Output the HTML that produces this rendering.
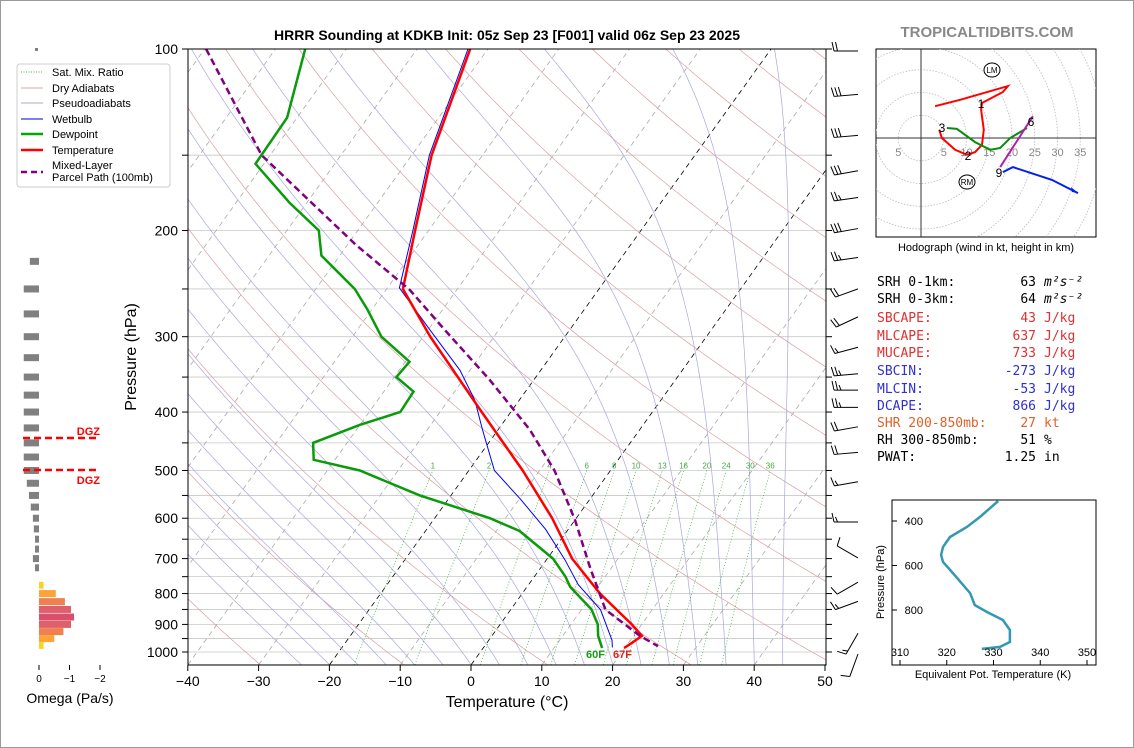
<!DOCTYPE html>
<html><head><meta charset="utf-8">
<style>
html,body{margin:0;padding:0;background:#fff;}
svg{display:block;font-family:"Liberation Sans","DejaVu Sans",sans-serif;}
.mono{font-family:"DejaVu Sans Mono","Liberation Mono",monospace;font-size:13px;white-space:pre;}
</style></head>
<body>
<svg id="chart" width="1134" height="748" viewBox="0 0 1134 748" xmlns="http://www.w3.org/2000/svg">
<defs><clipPath id="plotclip"><rect x="188" y="49" width="638" height="616"/></clipPath>
<clipPath id="hodoclip"><rect x="876" y="49" width="220" height="188"/></clipPath>
<clipPath id="teclip"><rect x="892" y="500" width="204" height="165"/></clipPath></defs>
<rect x="0.5" y="0.5" width="1133" height="747" fill="#fff" stroke="#999"/>
<text x="507" y="40" text-anchor="middle" font-size="14" font-weight="bold">HRRR Sounding at KDKB Init: 05z Sep 23 [F001] valid 06z Sep 23 2025</text>
<text x="987" y="37" text-anchor="middle" font-size="15" font-weight="bold" fill="#888">TROPICALTIDBITS.COM</text>
<g id="bg" clip-path="url(#plotclip)"></g>
<g id="series" clip-path="url(#plotclip)"></g>
<rect x="188" y="49" width="638" height="616" fill="none" stroke="#000" stroke-width="1"/>
<g id="axes"></g>
<text x="136" y="357" transform="rotate(-90 136 357)" text-anchor="middle" font-size="16">Pressure (hPa)</text>
<text x="507" y="707" text-anchor="middle" font-size="16">Temperature (°C)</text>
<text x="586" y="658" font-size="11" font-weight="bold" fill="#1a9a1a">60F</text>
<text x="613" y="658" font-size="11" font-weight="bold" fill="#e02020">67F</text>
<g id="barbs"></g>
<g id="omega"></g>
<text x="70" y="703" text-anchor="middle" font-size="14">Omega (Pa/s)</text>
<g>
<rect x="17" y="64" width="153" height="123" rx="3" fill="#fff" fill-opacity="0.9" stroke="#ccc"/>
<line x1="21" y1="72" x2="43" y2="72" stroke="#4a4" stroke-dasharray="1,1.5"/>
<text x="52" y="76" font-size="11">Sat. Mix. Ratio</text>
<line x1="21" y1="88" x2="43" y2="88" stroke="#d9a8a8"/>
<text x="52" y="92" font-size="11">Dry Adiabats</text>
<line x1="21" y1="103" x2="43" y2="103" stroke="#aaaad8"/>
<text x="52" y="107" font-size="11">Pseudoadiabats</text>
<line x1="21" y1="119" x2="43" y2="119" stroke="#00c"/>
<text x="52" y="123" font-size="11">Wetbulb</text>
<line x1="21" y1="134" x2="43" y2="134" stroke="#0a0" stroke-width="2.5"/>
<text x="52" y="138" font-size="11">Dewpoint</text>
<line x1="21" y1="150" x2="43" y2="150" stroke="red" stroke-width="2.5"/>
<text x="52" y="154" font-size="11">Temperature</text>
<line x1="21" y1="172" x2="43" y2="172" stroke="#800080" stroke-width="2.5" stroke-dasharray="6,4"/>
<text x="52" y="169" font-size="11">Mixed-Layer</text>
<text x="52" y="181" font-size="11">Parcel Path (100mb)</text>
</g>
<g id="hodo"></g>
<text x="986" y="251" text-anchor="middle" font-size="11">Hodograph (wind in kt, height in km)</text>
<g class="mono">
<text x="877" y="286">SRH 0-1km:</text><text x="1036" y="286" text-anchor="end">63</text><text x="1044" y="286" font-style="italic">m²s⁻²</text>
<text x="877" y="303">SRH 0-3km:</text><text x="1036" y="303" text-anchor="end">64</text><text x="1044" y="303" font-style="italic">m²s⁻²</text>
<g fill="#e03030"><text x="877" y="322">SBCAPE:</text><text x="1036" y="322" text-anchor="end">43</text><text x="1044" y="322">J/kg</text>
<text x="877" y="340">MLCAPE:</text><text x="1036" y="340" text-anchor="end">637</text><text x="1044" y="340">J/kg</text>
<text x="877" y="357">MUCAPE:</text><text x="1036" y="357" text-anchor="end">733</text><text x="1044" y="357">J/kg</text></g>
<g fill="#3030d0"><text x="877" y="375">SBCIN:</text><text x="1036" y="375" text-anchor="end">-273</text><text x="1044" y="375">J/kg</text>
<text x="877" y="393">MLCIN:</text><text x="1036" y="393" text-anchor="end">-53</text><text x="1044" y="393">J/kg</text>
<text x="877" y="410">DCAPE:</text><text x="1036" y="410" text-anchor="end">866</text><text x="1044" y="410">J/kg</text></g>
<text x="877" y="427" fill="#e0602a">SHR 200-850mb:</text><text x="1036" y="427" text-anchor="end" fill="#e0602a">27</text><text x="1044" y="427" fill="#e0602a">kt</text>
<text x="877" y="444">RH 300-850mb:</text><text x="1036" y="444" text-anchor="end">51</text><text x="1044" y="444">%</text>
<text x="877" y="461">PWAT:</text><text x="1036" y="461" text-anchor="end">1.25</text><text x="1044" y="461">in</text>
</g>
<g id="te"></g>
<text x="993" y="678" text-anchor="middle" font-size="11">Equivalent Pot. Temperature (K)</text>
<text x="884" y="582" transform="rotate(-90 884 582)" text-anchor="middle" font-size="11">Pressure (hPa)</text>
</svg>
<script>
// ---- data arrays ----
const tempP = [100,150,200,250,300,400,500,600,700,800,850,900,940,965,985];
const tempT = [-62.5,-57.2,-51.9,-47.7,-39.0,-24.1,-12.4,-3.4,3.5,11.0,14.9,18.6,21.2,20.5,19.9];
const dewP = [100,130,155,180,200,220,250,270,300,330,350,370,400,420,450,480,500,550,600,630,700,750,780,850,900,940,985];
const dewT = [-85.8,-81.4,-81.2,-72.4,-65.5,-62.6,-54.5,-50.7,-45.9,-39.4,-39.7,-35.8,-35.6,-40.0,-44.8,-43.0,-35.4,-24.4,-12.2,-6.7,0.8,4.4,6.1,11.4,13.8,15.0,16.8];
const wbP = [100,150,200,249,292,341,382,428,500,558,626,703,773,851,956,983];
const wbT = [-62.8,-57.5,-52.2,-48.3,-39.8,-31.4,-26.3,-22.2,-16.4,-9.8,-3.2,2.6,7.0,12.7,17.4,18.2];
const parP = [100,150,211,251,292,354,428,500,604,729,851,940,978];
const parT = [-99.8,-81.2,-58.9,-46.6,-37.7,-26.2,-15.5,-7.9,0.0,7.2,13.4,20.9,24.5];
const barbP = [100,118,138,158,175,197,220,248,276,310,343,365,390,420,463,518,604,693,760,818,924,1000];
const barbSpd = [20,30,30,30,25,30,25,20,20,15,25,25,25,20,20,15,15,10,10,15,15,10];
const barbDir = [270,265,265,260,262,260,262,250,245,255,265,270,270,260,265,260,270,300,240,250,210,200];
const omegaP = [225,250,275,300,325,350,375,400,425,450,475,500,525,550,575,600,625,650,675,700,725,775,800,825,850,875,900,925,950,975];
const omegaV = [0.3,0.5,0.5,0.5,0.5,0.5,0.5,0.5,0.5,0.5,0.5,0.5,0.4,0.33,0.27,0.2,0.17,0.13,0.13,0.2,0.13,-0.15,-0.55,-0.85,-1.05,-1.15,-1.05,-0.8,-0.5,-0.15];
const teP = [310,382,427,472,517,553,584,629,724,778,809,845,890,944,966,975];
const teV = [331.0,327.1,324.3,320.7,319.2,318.8,319.2,321.1,325.0,326.0,328.6,332.0,333.5,333.5,331.4,327.5];
const hodoRedU = [3.1,8.6,19.1,18.0,13.4,13.2,13.8,13.4,11.9,10.1,7.5,4.6,4.0];
const hodoRedV = [7.0,8.4,11.4,10.1,7.7,6.2,1.8,-1.5,-3.1,-3.7,-2.6,0,1.8];
const hodoGreenU = [5.7,7.9,11.9,15.2,17.4,19.6,23.3];
const hodoGreenV = [2.2,2.0,-0.9,-2.6,-2.2,0,2.2];
const hodoMagU = [17.4,24.6];
const hodoMagV = [-6.4,4.8];
const hodoBlueU = [18.0,20.2,28.8,34.5];
const hodoBlueV = [-7.5,-6.4,-9.2,-12.1];
const pTicks = [100,200,300,400,500,600,700,800,900,1000];
const tTicks = [-40,-30,-20,-10,0,10,20,30,40,50];

const NS='http://www.w3.org/2000/svg';
function mk(parent,tag,attrs){const e=document.createElementNS(NS,tag);for(const k in attrs)e.setAttribute(k,attrs[k]);parent.appendChild(e);return e;}
const yP=p=>49+Math.log10(p/100)*603;
const xT=(T,p)=>471+T*7.08+(665-yP(p))*0.717;
const bg=document.getElementById('bg'),ser=document.getElementById('series'),ax=document.getElementById('axes');
function pathPT(P,T){return P.map((p,i)=>(i?'L':'M')+xT(T[i],p).toFixed(1)+','+yP(p).toFixed(1)).join('');}

// isobars
for(let p=100;p<=1050;p+=50){const l=mk(bg,'line',{x1:188,x2:826,y1:yP(p),y2:yP(p),stroke:'#c8c8c8','stroke-width':0.8});

}
// isotherms
for(let T=-120;T<=50;T+=10){const l=mk(bg,'line',{x1:xT(T,1050),y1:yP(1050),x2:xT(T,100),y2:yP(100),stroke:(T==0||T==-20)?'#000':'#aaa','stroke-width':0.8,'stroke-dasharray':'5,4'});

}
// dry adiabats
for(let th=240;th<=520;th+=20){let d='';for(let p=1050;p>=100;p-=10){const T=th*Math.pow(p/1000,0.2857)-273.15;d+=(d?'L':'M')+xT(T,p).toFixed(1)+','+yP(p).toFixed(1);}
const e=mk(bg,'path',{d:d,fill:'none',stroke:'#d9a0a0','stroke-width':0.7});

}
// moist adiabats
function es(T){return 6.112*Math.exp(17.67*T/(T+243.5));}
for(let T0=-24;T0<=44;T0+=4){let T=T0+273.15,d='';for(let p=1050;p>=100;p-=5){d+=(d?'L':'M')+xT(T-273.15,p).toFixed(1)+','+yP(p).toFixed(1);
const rs=0.622*es(T-273.15)/(p-es(T-273.15));const dTdp=(287*T+2.5e6*rs)/(1004+2.5e6*2.5e6*rs*0.622/(287*T*T))/p;T-=dTdp*5;}
const e=mk(bg,'path',{d:d,fill:'none',stroke:'#a8a8dc','stroke-width':0.7});

}
// mixing ratio
[1,2,4,6,8,10,13,16,20,24,30,36].forEach(w=>{let d='';for(let p=1050;p>=500;p-=10){const e=w*p/(622+w),l=Math.log(e/6.112),Td=243.5*l/(17.67-l);d+=(d?'L':'M')+xT(Td,p).toFixed(1)+','+yP(p).toFixed(1);}
const e=mk(bg,'path',{d:d,fill:'none',stroke:'#3a3','stroke-width':0.7,'stroke-dasharray':'1,2'});


const ew=w*500/(622+w),l=Math.log(ew/6.112),Td=243.5*l/(17.67-l);
const t=mk(bg,'text',{x:xT(Td,500),y:yP(500)-2,'font-size':8,fill:'#4a4','text-anchor':'middle'});t.textContent=w;

});

// series
let e;
e=mk(ser,'path',{d:pathPT(wbP,wbT),fill:'none',stroke:'#0000ee','stroke-width':1});


e=mk(ser,'path',{d:pathPT(dewP,dewT),fill:'none',stroke:'#0a9a0a','stroke-width':2.5});


e=mk(ser,'path',{d:pathPT(tempP,tempT),fill:'none',stroke:'#ff0000','stroke-width':2.5});


e=mk(ser,'path',{d:pathPT(parP,parT),fill:'none',stroke:'#800080','stroke-width':2.5,'stroke-dasharray':'7,4'});



// axes ticks
for(let p=100;p<=1000;p+=50){const y=yP(p);const t=mk(ax,'line',{x1:182,x2:188,y1:y,y2:y,stroke:'#000'});


const t2=mk(ax,'line',{x1:826,x2:832,y1:y,y2:y,stroke:'#000'});

}
pTicks.forEach(p=>{const t=mk(ax,'text',{x:178,y:yP(p)+5,'text-anchor':'end','font-size':14});t.textContent=p;

});
tTicks.forEach(T=>{const x=471+T*7.08;const l=mk(ax,'line',{x1:x,x2:x,y1:665,y2:671,stroke:'#000'});


const t=mk(ax,'text',{x:x,y:686,'text-anchor':'middle','font-size':14});t.textContent=(T<0?'\u2212'+(-T):T);

});

// wind barbs
const bb=document.getElementById('barbs');
barbP.forEach((p,i)=>{const y=yP(p),bx=858,by=y+2,a=barbDir[i]*Math.PI/180,vx=Math.sin(a),vy=-Math.cos(a),L=24;
const ex=bx+vx*L,ey=by+vy*L;const px=-vy,py=vx;
const s=mk(bb,'line',{x1:bx,y1:by,x2:ex,y2:ey,stroke:'#000','stroke-width':1});


let spd=barbSpd[i],k=0;while(spd>=5){const full=spd>=10;const len=full?9:5;const sx=ex-vx*k*3.5,sy=ey-vy*k*3.5;
const f=mk(bb,'line',{x1:sx,y1:sy,x2:sx+px*len+vx*2,y2:sy+py*len+vy*2,stroke:'#000','stroke-width':1});


spd-=full?10:5;k++;}});

// omega panel
const om=document.getElementById('omega');
const xO=v=>39-v*30.5;
omegaP.forEach((p,i)=>{const v=omegaV[i],y=yP(p);const x0=xO(0),x1=xO(v);
let c='#808080';if(v<0){const m=-v;c=m<0.3?'#f9d423':m<0.6?'#fca43a':m<0.9?'#ef8050':m<1.1?'#e0606a':'#d8506c';}
const r=mk(om,'rect',{x:Math.min(x0,x1),y:y-3.5,width:Math.abs(x1-x0),height:7,fill:c});

});
[0,-1,-2].forEach(v=>{const x=xO(v);const l=mk(om,'line',{x1:x,x2:x,y1:665,y2:670,stroke:'#000'});


const t=mk(om,'text',{x:x,y:682,'text-anchor':'middle','font-size':10});t.textContent=v==0?'0':'\u2212'+(-v);

});
[438,470].forEach((y,i)=>{const l=mk(om,'line',{x1:23,x2:99,y1:y,y2:y,stroke:'red','stroke-width':2.5,'stroke-dasharray':'7,4'});


const t=mk(om,'text',{x:100,y:i?484:435,'text-anchor':'end','font-size':11,'font-weight':'bold',fill:'red'});t.textContent='DGZ';

});
e=mk(om,'rect',{x:35,y:48,width:3,height:3,fill:'#808080'});



// hodograph
const hg=document.getElementById('hodo');
e=mk(hg,'rect',{x:876,y:49,width:220,height:188,fill:'#fff',stroke:'#000'});


const hc=mk(hg,'g',{'clip-path':'url(#hodoclip)'});


const HX=921,HY=138,HS=4.55;
for(let r=5;r<=45;r+=5){const c=mk(hc,'circle',{cx:HX,cy:HY,r:r*HS,fill:'none',stroke:'#bbb','stroke-dasharray':'1.5,1.5','stroke-width':0.8});

}
e=mk(hc,'line',{x1:876,x2:1096,y1:HY,y2:HY,stroke:'#333'});


e=mk(hc,'line',{x1:HX,x2:HX,y1:49,y2:237,stroke:'#333'});


[-5,5,10,15,20,25,30,35].forEach(r=>{const t=mk(hc,'text',{x:HX+r*HS,y:HY+18,'text-anchor':'middle','font-size':11,fill:'#888'});t.textContent=Math.abs(r);

});
function hline(U,V,col,name){const d=U.map((u,i)=>(i?'L':'M')+(HX+u*HS).toFixed(1)+','+(HY-V[i]*HS).toFixed(1)).join('');
const p=mk(hc,'path',{d:d,fill:'none',stroke:col,'stroke-width':2});

}
hline(hodoRedU,hodoRedV,'#f00','hodograph-0-3km');
hline(hodoGreenU,hodoGreenV,'#0a8a0a','hodograph-3-6km');
hline(hodoMagU,hodoMagV,'#b020b0','hodograph-6-9km');
hline(hodoBlueU,hodoBlueV,'#0020f0','hodograph-9km-plus');
e=mk(hc,'path',{d:'M1078,193 l-7,-6 l1,5z',fill:'#0020f0'});


[['1',981,108],['2',968,160],['3',942,132],['6',1031,126],['9',999,177]].forEach(a=>{const t=mk(hc,'text',{x:a[1],y:a[2],'text-anchor':'middle','font-size':12});t.textContent=a[0];

});
[['LM',992,70],['RM',967,182]].forEach(a=>{const c=mk(hc,'ellipse',{cx:a[1],cy:a[2],rx:8,ry:7,fill:'#fff',stroke:'#000'});


const t=mk(hc,'text',{x:a[1],y:a[2]+3,'text-anchor':'middle','font-size':8});t.textContent=a[0];

});

// theta-e panel
const te=document.getElementById('te');
const xE=v=>900+(v-310)*4.675, yE=p=>521+(p-400)*0.2225;
e=mk(te,'rect',{x:892,y:500,width:204,height:165,fill:'#fff',stroke:'#000'});


const tc=mk(te,'g',{'clip-path':'url(#teclip)'});


e=mk(tc,'path',{d:teP.map((p,i)=>(i?'L':'M')+xE(teV[i]).toFixed(1)+','+yE(p).toFixed(1)).join(''),fill:'none',stroke:'#3399b3','stroke-width':2.5});


[400,600,800].forEach(p=>{const l=mk(te,'line',{x1:892,x2:897,y1:yE(p),y2:yE(p),stroke:'#000'});


const t=mk(te,'text',{x:923,y:yE(p)+4,'text-anchor':'end','font-size':11});t.textContent=p;

});
[310,320,330,340,350].forEach(v=>{const l=mk(te,'line',{x1:xE(v),x2:xE(v),y1:660,y2:665,stroke:'#000'});


const t=mk(te,'text',{x:xE(v),y:656,'text-anchor':'middle','font-size':11});t.textContent=v;

});
</script>
</body></html>
